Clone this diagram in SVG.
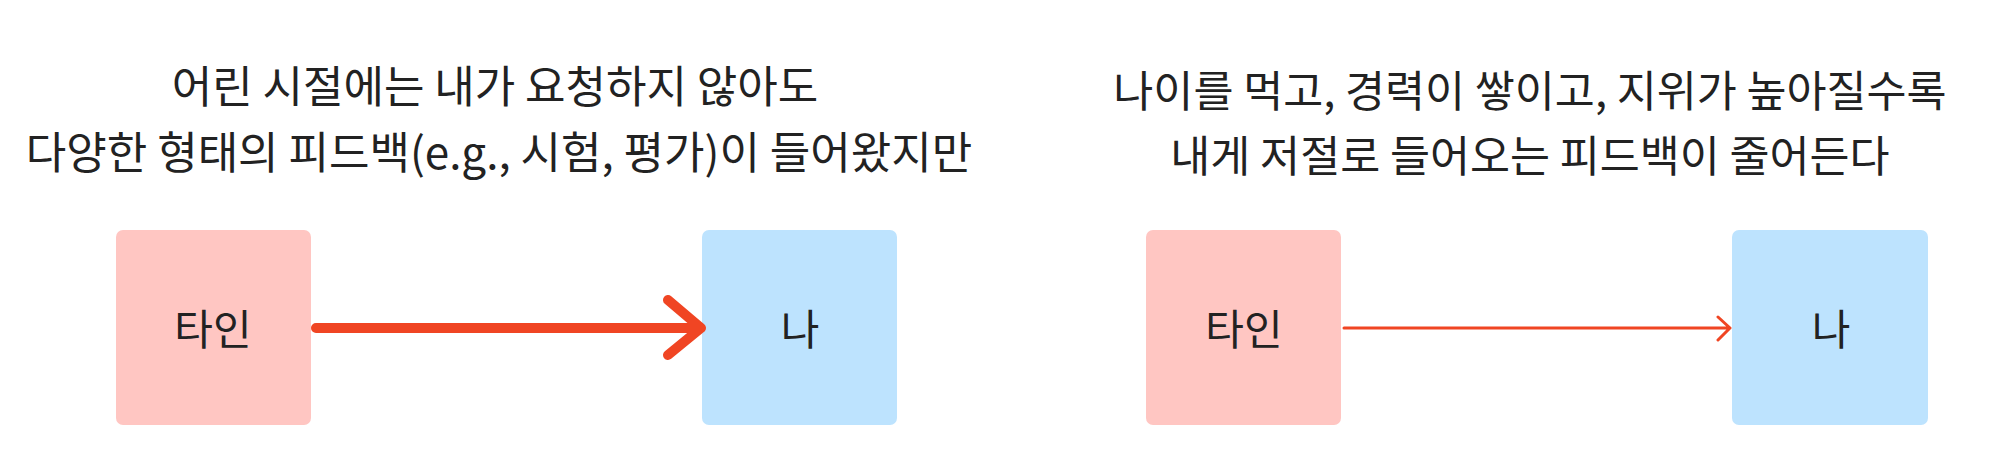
<svg xmlns="http://www.w3.org/2000/svg" width="2000" height="471" viewBox="0 0 2000 471">
<style>
.t{font-family:"Noto Sans CJK KR","Noto Sans",sans-serif;font-size:44px;fill:#222;text-anchor:middle}
.t2{font-size:43.5px}
.lbl{font-family:"Noto Sans CJK KR","Noto Sans",sans-serif;font-size:42px;fill:#222;text-anchor:middle}
.other{fill:#FFC6C2}
.me{fill:#BDE3FE}
.arr{fill:none;stroke:#F04523;stroke-linecap:round;stroke-linejoin:round}
</style>
<rect width="2000" height="471" fill="#ffffff"/>
<g id="caption-left">
<text class="t" x="495" y="103">어린 시절에는 내가 요청하지 않아도</text>
<text class="t" x="499" y="169">다양한 형태의 피드백(e.g., 시험, 평가)이 들어왔지만</text>
</g>
<g id="caption-right">
<text class="t t2" x="1530" y="107">나이를 먹고, 경력이 쌓이고, 지위가 높아질수록</text>
<text class="t t2" x="1530" y="172">내게 저절로 들어오는 피드백이 줄어든다</text>
</g>
<g id="left-other">
<rect class="other" x="116" y="230" width="195" height="195" rx="7"/>
<text class="lbl" x="213" y="345">타인</text>
</g>
<g id="left-me">
<rect class="me" x="702" y="230" width="195" height="195" rx="7"/>
<text class="lbl" x="800" y="345">나</text>
</g>
<g id="right-other">
<rect class="other" x="1146" y="230" width="195" height="195" rx="7"/>
<text class="lbl" x="1244" y="345">타인</text>
</g>
<g id="right-me">
<rect class="me" x="1732" y="230" width="196" height="195" rx="7"/>
<text class="lbl" x="1831" y="345">나</text>
</g>
<g id="connectors">
<path class="arr" stroke-width="10" d="M316 328 H700 M668 300 L701 328 L668 355"/>
<path class="arr" stroke-width="3" d="M1344 328 H1730 M1718 317 L1730 328 L1718 340"/>
</g>
</svg>
